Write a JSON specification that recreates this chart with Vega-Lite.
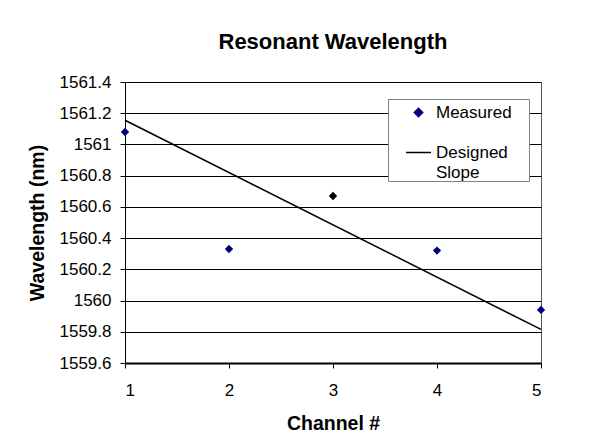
{
  "$schema": "https://vega.github.io/schema/vega-lite/v6.json",
  "autosize": {"type": "none"},
  "padding": {"left": 125, "top": 82, "right": 58, "bottom": 82},
  "width": 416,
  "height": 281,
  "background": "white",
  "title": {
    "text": "Resonant Wavelength",
    "font": "Liberation Sans",
    "fontSize": 22,
    "fontWeight": "bold",
    "color": "#000000",
    "anchor": "middle",
    "baseline": "alphabetic",
    "offset": 2
  },
  "datasets": {
    "measured": [
      {"channel": 1, "wavelength": 1561.08, "series": "Measured"},
      {"channel": 2, "wavelength": 1560.33, "series": "Measured"},
      {"channel": 3, "wavelength": 1560.67, "series": "Measured"},
      {"channel": 4, "wavelength": 1560.32, "series": "Measured"},
      {"channel": 5, "wavelength": 1559.94, "series": "Measured"}
    ],
    "designed": [
      {"channel": 1, "wavelength": 1561.155, "series": "Designed Slope"},
      {"channel": 5, "wavelength": 1559.815, "series": "Designed Slope"}
    ]
  },
  "encoding": {
    "x": {
      "field": "channel",
      "type": "quantitative",
      "title": "Channel #",
      "scale": {"domain": [1, 5], "nice": false, "zero": false},
      "axis": {
        "values": [1, 2, 3, 4, 5],
        "format": "d",
        "grid": false,
        "domainColor": "#000000",
        "domainWidth": 2,
        "tickColor": "#000000",
        "tickSize": 5,
        "labelPadding": 14,
        "titlePadding": 16
      }
    },
    "y": {
      "field": "wavelength",
      "type": "quantitative",
      "title": "Wavelength (nm)",
      "scale": {"domain": [1559.6, 1561.4], "nice": false, "zero": false},
      "axis": {
        "values": [1559.6, 1559.8, 1560, 1560.2, 1560.4, 1560.6, 1560.8, 1561, 1561.2, 1561.4],
        "format": "~f",
        "grid": true,
        "gridColor": "#000000",
        "gridWidth": 1,
        "gridOpacity": 1,
        "domainColor": "#000000",
        "domainWidth": 1,
        "tickColor": "#000000",
        "tickSize": 5,
        "labelPadding": 9,
        "titlePadding": 12
      }
    }
  },
  "layer": [
    {
      "data": {"name": "designed"},
      "mark": {"type": "line", "strokeWidth": 1.5},
      "encoding": {
        "color": {
          "field": "series",
          "type": "nominal",
          "scale": {"domain": ["Measured", "Designed Slope"], "range": ["#000080", "#000000"]},
          "legend": {
            "orient": "none",
            "legendX": 263,
            "legendY": 17,
            "title": null,
            "padding": 0,
            "strokeColor": "#808080",
            "fillColor": "#ffffff",
            "symbolSize": 100,
            "symbolOffset": 17,
            "symbolStrokeWidth": 1.5,
            "labelFont": "Liberation Sans",
            "labelFontSize": 17,
            "labelColor": "#000000",
            "labelOffset": 4,
            "rowPadding": 18,
            "labelExpr": "datum.label === 'Designed Slope' ? ['Designed', 'Slope'] : datum.label + '\u00a0\u2800'",
            "encode": {
              "symbols": {
                "update": {
                  "shape": {"signal": "datum.value === 'Measured' ? 'diamond' : 'stroke'"},
                  "size": {"signal": "datum.value === 'Measured' ? 70 : 625"},
                  "fill": {"signal": "datum.value === 'Measured' ? '#000080' : 'transparent'"},
                  "stroke": {"signal": "datum.value === 'Measured' ? '#000080' : '#000000'"},
                  "strokeWidth": {"value": 1.5},
                  "opacity": {"value": 1}
                }
              },
              "labels": {
                "update": {
                  "lineHeight": {"value": 20}
                }
              }
            }
          }
        }
      }
    },
    {
      "data": {"name": "measured"},
      "mark": {"type": "point", "shape": "diamond", "filled": true, "size": 70, "opacity": 1},
      "encoding": {
        "color": {
          "condition": {"test": "datum.channel === 3", "value": "#000000"},
          "field": "series",
          "type": "nominal",
          "scale": {"domain": ["Measured", "Designed Slope"], "range": ["#000080", "#000000"]},
          "legend": {
            "orient": "none",
            "legendX": 263,
            "legendY": 17,
            "title": null,
            "padding": 0,
            "strokeColor": "#808080",
            "fillColor": "#ffffff",
            "symbolSize": 100,
            "symbolOffset": 17,
            "symbolStrokeWidth": 1.5,
            "labelFont": "Liberation Sans",
            "labelFontSize": 17,
            "labelColor": "#000000",
            "labelOffset": 4,
            "rowPadding": 18,
            "labelExpr": "datum.label === 'Designed Slope' ? ['Designed', 'Slope'] : datum.label + '\u00a0\u2800'",
            "encode": {
              "symbols": {
                "update": {
                  "shape": {"signal": "datum.value === 'Measured' ? 'diamond' : 'stroke'"},
                  "size": {"signal": "datum.value === 'Measured' ? 70 : 625"},
                  "fill": {"signal": "datum.value === 'Measured' ? '#000080' : 'transparent'"},
                  "stroke": {"signal": "datum.value === 'Measured' ? '#000080' : '#000000'"},
                  "strokeWidth": {"value": 1.5},
                  "opacity": {"value": 1}
                }
              },
              "labels": {
                "update": {
                  "lineHeight": {"value": 20}
                }
              }
            }
          }
        }
      }
    }
  ],
  "config": {
    "view": {"stroke": "#555555", "strokeWidth": 1},
    "axis": {
      "labelFont": "Liberation Sans",
      "labelFontSize": 17,
      "labelColor": "#000000",
      "titleFont": "Liberation Sans",
      "titleFontSize": 19.5,
      "titleFontWeight": "bold",
      "titleColor": "#000000"
    }
  }
}
